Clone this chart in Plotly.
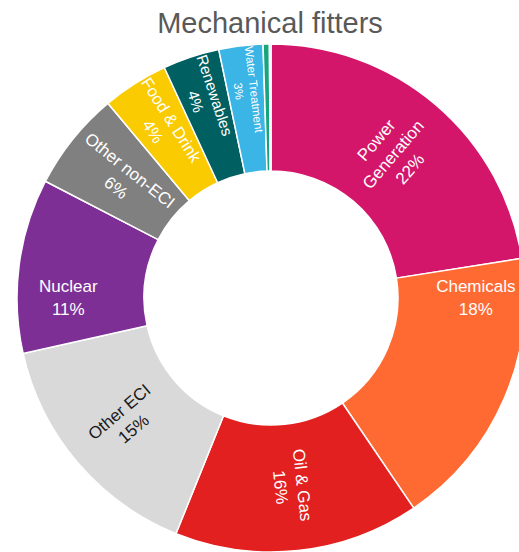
import plotly.graph_objects as go

categories = ["Power Generation", "Chemicals", "Oil & Gas", "Other ECI", "Nuclear",
              "Other non-ECI", "Food & Drink", "Renewables", "Water Treatment",
              "Other (small) A", "Other (small) B"]
values = [22.5, 18.0, 15.6, 15.4, 11.1, 6.3, 4.2, 3.6, 2.8, 0.4, 0.1]
display_names = ["Power<br>Generation", "Chemicals", "Oil & Gas", "Other ECI", "Nuclear",
                 "Other non-ECI", "Food & Drink", "Renewables", "Water Treatment", "", ""]
pct_labels = ["22%", "18%", "16%", "15%", "11%", "6%", "4%", "4%", "3%", "", ""]

colors = ["#D4166A", "#FF6A33", "#E2201F", "#D9D9D9", "#7E2F96",
          "#808080", "#F9CB00", "#005F60", "#3BB4E6", "#17A57C", "#0AA0B4"]
text_colors = ["white", "white", "white", "#1a1a1a", "white",
               "white", "white", "white", "white", "white", "white"]

texts = [(n + "<br>" + p) if n else "" for n, p in zip(display_names, pct_labels)]

fig = go.Figure(go.Pie(
    labels=categories,
    values=values,
    text=texts,
    textinfo="text",
    sort=False,
    direction="clockwise",
    rotation=0,
    hole=0.5,
    insidetextorientation="radial",
    textposition="inside",
    marker=dict(colors=colors, line=dict(color="white", width=1.5)),
    textfont=dict(family="Liberation Sans, Arial, sans-serif", size=17, color=text_colors),
    showlegend=False,
))

W, H = 540, 570
fig.update_layout(
    width=W, height=H,
    margin=dict(l=17, t=44, r=W - 17 - 508, b=H - 44 - 508, pad=0),
    paper_bgcolor="white",
    title=dict(text="Mechanical fitters", x=270 / W, xref="container", xanchor="center",
               y=1 - 23 / H, yref="container", yanchor="middle",
               font=dict(family="Liberation Sans, Arial, sans-serif", size=29, color="#595959")),
)

fig.write_html("out.html", config={"displayModeBar": False},
               post_script="document.body.style.margin='0';document.body.style.overflow='hidden';")
